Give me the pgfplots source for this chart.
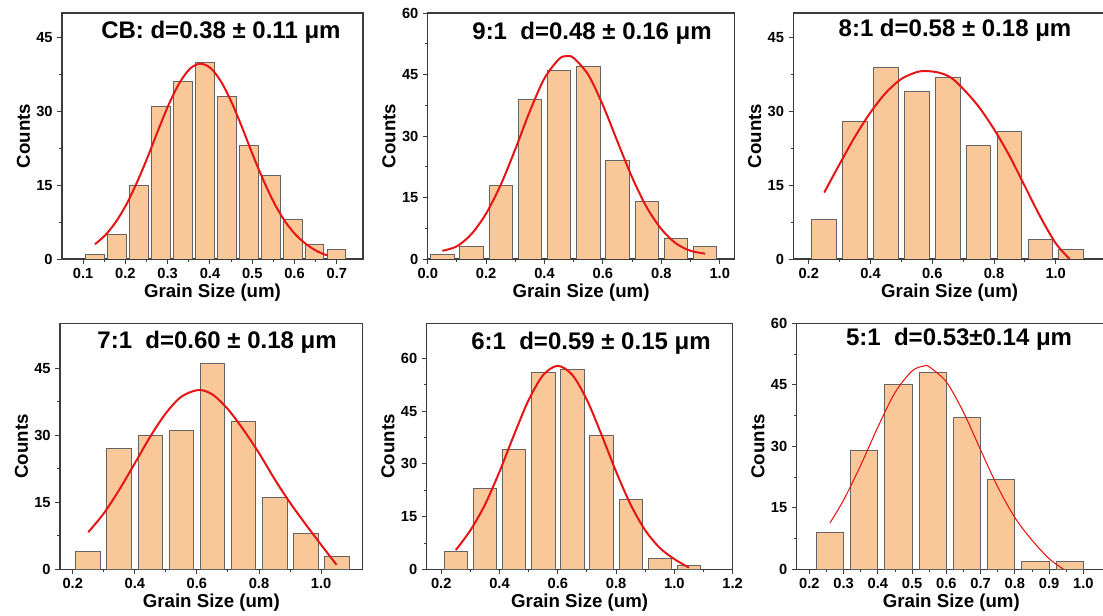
\documentclass[border=0pt]{standalone}
\usepackage{fontspec}
\setmainfont{Liberation Sans}
\usepackage{pgfplots}
\pgfplotsset{compat=1.18}

\definecolor{barfill}{RGB}{250,200,152}
\definecolor{baredge}{RGB}{100,100,100}
\definecolor{fitred}{RGB}{230,20,20}
\definecolor{axisgray}{RGB}{60,60,60}

\tikzset{ttl/.style={font=\fontsize{18}{20}\selectfont\bfseries}}

\pgfplotsset{
  hist/.style={
    scale only axis, height=184.5pt,
    anchor=south west, ymin=0,
    axis line style={axisgray, line width=0.9pt},
    tick align=outside, xtick pos=bottom, ytick pos=left,
    major tick length=3.5pt, minor tick length=2pt,
    tick style={axisgray, line width=0.7pt},
    minor x tick num=1, minor y tick num=1,
    /pgf/number format/assume math mode=true,
    tick label style={font=\fontsize{11}{13}\selectfont\bfseries},
    xticklabel style={/pgf/number format/.cd, fixed, fixed zerofill, precision=1, /tikz/.cd},
    label style={font=\fontsize{14}{16}\selectfont\bfseries},
    xlabel={Grain Size (um)}, ylabel={Counts},
    xlabel style={at={([yshift=-25pt]axis description cs:0.5,0)}, anchor=center},
    ylabel style={at={([xshift=-29pt]axis description cs:0,0.5)}, anchor=center},
  },
  bars/.style={ybar, bar shift=0pt, fill=barfill, draw=baredge, line width=0.6pt},
  fit/.style={fitred, line width=1.5pt, smooth, no markers},
}

\begin{document}
\begin{tikzpicture}
\useasboundingbox (0,0) rectangle (827.25pt,-462pt);

% CB
\begin{axis}[hist, at={(46.5pt,-194.25pt)}, width=225.75pt,
  xmin=0.05, xmax=0.762, ymax=50,
  xtick={0.1,0.2,0.3,0.4,0.5,0.6,0.7}, ytick={0,15,30,45}]
\addplot[bars, bar width=0.043] coordinates {
  (0.128,1) (0.180,5) (0.232,15) (0.284,31) (0.336,36) (0.388,40)
  (0.440,33) (0.492,23) (0.544,17) (0.596,8) (0.648,3) (0.700,2)};
\addplot[fit] coordinates {
  (0.128,3.0) (0.153,4.9) (0.178,7.6) (0.203,11.2) (0.228,15.7) (0.253,20.8)
  (0.278,26.3) (0.303,31.5) (0.328,35.8) (0.353,38.7) (0.378,39.7) (0.403,38.7)
  (0.428,35.8) (0.453,31.5) (0.478,26.3) (0.503,20.8) (0.528,15.7) (0.553,11.2)
  (0.578,7.6) (0.603,4.9) (0.628,3.0) (0.653,1.6) (0.678,0.7)};
\node[ttl] at (rel axis cs:0.528,0.923) {CB: d=0.38 ± 0.11 μm};
\end{axis}

% 9:1
\begin{axis}[hist, at={(320.8pt,-194.25pt)}, width=229.95pt,
  xmin=0, xmax=1.05, ymax=60,
  xtick={0,0.2,0.4,0.6,0.8,1.0}, ytick={0,15,30,45,60}]
\addplot[bars, bar width=0.08] coordinates {
  (0.05,1) (0.15,3) (0.25,18) (0.35,39) (0.45,46) (0.55,47)
  (0.65,24) (0.75,14) (0.85,5) (0.95,3)};
\addplot[fit] coordinates {
  (0.05,2.0) (0.10,3.1) (0.15,6.1) (0.20,11.1) (0.25,18.1) (0.30,26.8)
  (0.35,36.1) (0.40,44.1) (0.45,48.8) (0.477,49.5) (0.50,49.0) (0.55,44.9)
  (0.60,37.5) (0.65,28.6) (0.70,19.9) (0.75,12.6) (0.80,7.3) (0.85,3.8)
  (0.90,2.0) (0.95,1.3)};
\node[ttl] at (rel axis cs:0.536,0.919) {9:1\ \ d=0.48 ± 0.16 μm};
\end{axis}

% 8:1
\begin{axis}[hist, at={(595pt,-194.25pt)}, width=234.5pt,
  xmin=0.15, xmax=1.163, ymax=50,
  xtick={0.2,0.4,0.6,0.8,1.0}, ytick={0,15,30,45}]
\addplot[bars, bar width=0.08] coordinates {
  (0.25,8) (0.35,28) (0.45,39) (0.55,34) (0.65,37) (0.75,23)
  (0.85,26) (0.95,4) (1.05,2)};
\addplot[fit] coordinates {
  (0.25,13.5) (0.30,19.3) (0.35,24.9) (0.40,29.8) (0.45,33.8) (0.50,36.6)
  (0.55,38.0) (0.58,38.2) (0.62,37.9) (0.66,36.9) (0.70,34.6) (0.75,31.0)
  (0.80,26.4) (0.85,21.0) (0.90,14.8) (0.95,8.6) (1.00,3.2) (1.045,0)};
\node[ttl] at (rel axis cs:0.517,0.931) {8:1 d=0.58 ± 0.18 μm};
\end{axis}

% 7:1
\begin{axis}[hist, at={(45pt,-427pt)}, width=227pt,
  xmin=0.159, xmax=1.134, ymax=55,
  xtick={0.2,0.4,0.6,0.8,1.0}, ytick={0,15,30,45}]
\addplot[bars, bar width=0.08] coordinates {
  (0.25,4) (0.35,27) (0.45,30) (0.55,31) (0.65,46) (0.75,33)
  (0.85,16) (0.95,8) (1.05,3)};
\addplot[fit] coordinates {
  (0.25,8.3) (0.30,12.5) (0.35,17.8) (0.40,23.7) (0.45,29.7) (0.50,34.9)
  (0.55,38.6) (0.605,40.1) (0.65,39.1) (0.70,35.8) (0.75,31.2) (0.80,26.0)
  (0.85,20.2) (0.90,14.9) (0.95,10.1) (1.00,5.5) (1.05,1.0)};
\node[ttl] at (rel axis cs:0.519,0.924) {7:1\ \ d=0.60 ± 0.18 μm};
\end{axis}

% 6:1
\begin{axis}[hist, at={(320pt,-427pt)}, width=229.5pt,
  xmin=0.15, xmax=1.2, ymax=70,
  xtick={0.2,0.4,0.6,0.8,1.0,1.2}, ytick={0,15,30,45,60}]
\addplot[bars, bar width=0.08] coordinates {
  (0.25,5) (0.35,23) (0.45,34) (0.55,56) (0.65,57) (0.75,38)
  (0.85,20) (0.95,3) (1.05,1)};
\addplot[fit] coordinates {
  (0.25,5.5) (0.30,11.1) (0.35,18.4) (0.40,27.8) (0.45,38.3) (0.50,48.2)
  (0.55,55.3) (0.60,57.9) (0.65,55.3) (0.70,48.2) (0.75,38.3) (0.80,27.8)
  (0.85,18.4) (0.90,11.1) (0.95,6.1) (1.00,2.9) (1.05,0.5)};
\node[ttl] at (rel axis cs:0.537,0.92) {6:1\ \ d=0.59 ± 0.15 μm};
\end{axis}

% 5:1
\begin{axis}[hist, at={(597.5pt,-427pt)}, width=232pt,
  xmin=0.163, xmax=1.066, ymax=60,
  xtick={0.2,0.3,0.4,0.5,0.6,0.7,0.8,0.9,1.0}, ytick={0,15,30,45,60}]
\addplot[bars, bar width=0.08] coordinates {
  (0.26,9) (0.36,29) (0.46,45) (0.56,48) (0.66,37) (0.76,22)
  (0.86,2) (0.96,2)};
\addplot[fit, line width=0.8pt] coordinates {
  (0.26,11.3) (0.30,16.9) (0.35,25.4) (0.40,34.7) (0.45,43.1) (0.50,48.4)
  (0.535,49.6) (0.55,49.4) (0.60,45.7) (0.65,38.3) (0.70,29.1) (0.75,20.1)
  (0.80,12.6) (0.85,7.1) (0.90,2.6) (0.942,0)};
\node[ttl] at (rel axis cs:0.525,0.934) {5:1\ \ d=0.53±0.14 μm};
\end{axis}

\end{tikzpicture}
\end{document}
